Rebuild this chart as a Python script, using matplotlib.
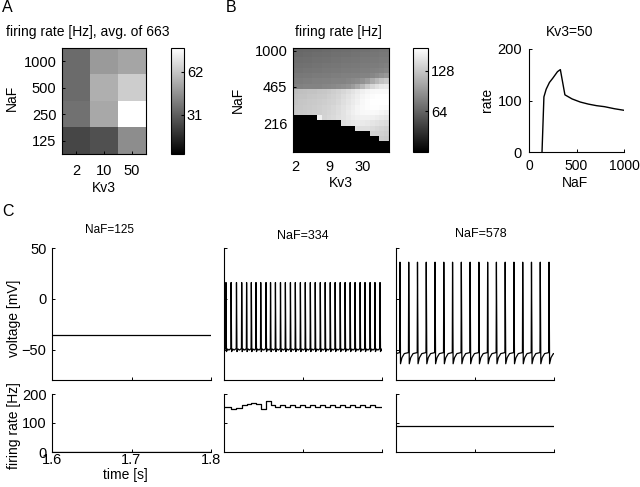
import numpy as np
import matplotlib
matplotlib.use('Agg')
import matplotlib.pyplot as plt

plt.rcParams['font.family'] = ['Liberation Sans', 'DejaVu Sans']
plt.rcParams['font.size'] = 10
plt.rcParams['axes.linewidth'] = 0.8

# ---------------- data ----------------
# Panel A
a_kv3_labels = ['2', '10', '50']
a_naf_labels = ['1000', '500', '250', '125']
a_rates = [[35, 49, 52],
           [35, 55, 64],
           [37, 53, 79],
           [24, 27, 45]]
a_clim = (3, 79)
a_cbar_ticks = [31, 62]

# Panel B heatmap (rows: NaF 1000 -> 125, cols: Kv3 2 -> 50)
b_rates = [
    [66, 66, 67, 67, 68, 68, 69, 69, 70, 70, 71, 71, 72, 72, 73, 73, 74, 74, 75, 75],
    [68, 68, 69, 69, 70, 70, 71, 71, 72, 72, 73, 73, 74, 74, 75, 75, 76, 76, 77, 77],
    [70, 70, 71, 71, 72, 72, 73, 73, 74, 74, 75, 75, 76, 76, 77, 77, 78, 78, 79, 79],
    [72, 72, 73, 73, 74, 74, 75, 75, 76, 76, 77, 77, 78, 78, 79, 79, 80, 80, 81, 82],
    [74, 74, 75, 75, 76, 76, 77, 77, 78, 78, 79, 79, 80, 80, 81, 81, 82, 83, 84, 86],
    [77, 77, 78, 78, 79, 79, 80, 80, 81, 81, 82, 82, 83, 83, 84, 85, 87, 90, 94, 98],
    [80, 80, 81, 81, 82, 82, 83, 83, 84, 84, 85, 86, 88, 90, 94, 100, 110, 118, 125, 130],
    [83, 83, 84, 84, 85, 85, 86, 87, 88, 90, 92, 95, 100, 108, 118, 130, 138, 144, 148, 150],
    [122, 123, 124, 125, 126, 127, 128, 130, 132, 135, 138, 142, 146, 150, 154, 157, 159, 160, 160, 160],
    [124, 125, 126, 127, 128, 129, 130, 132, 134, 137, 141, 145, 149, 153, 157, 160, 162, 163, 163, 163],
    [126, 127, 128, 129, 130, 131, 132, 134, 136, 139, 143, 147, 151, 155, 159, 162, 164, 164, 164, 164],
    [127, 128, 129, 130, 131, 132, 134, 136, 138, 141, 145, 149, 153, 157, 160, 162, 163, 163, 162, 161],
    [128, 129, 130, 131, 132, 133, 135, 137, 139, 142, 146, 150, 154, 157, 159, 160, 160, 159, 157, 155],
    [0, 0, 0, 0, 0, 155, 136, 138, 140, 143, 146, 149, 152, 154, 155, 155, 154, 152, 150, 148],
    [0, 0, 0, 0, 0, 0, 0, 0, 0, 0, 143, 146, 148, 150, 150, 149, 147, 145, 143, 141],
    [0, 0, 0, 0, 0, 0, 0, 0, 0, 0, 0, 0, 0, 142, 143, 143, 141, 139, 137, 135],
    [0, 0, 0, 0, 0, 0, 0, 0, 0, 0, 0, 0, 0, 0, 0, 0, 136, 135, 134, 132],
    [0, 0, 0, 0, 0, 0, 0, 0, 0, 0, 0, 0, 0, 0, 0, 0, 0, 0, 131, 130],
    [0] * 20,
    [0] * 20,
]
b_kv3_tick_idx = [0, 7, 14]
b_kv3_labels = ['2', '9', '30']
b_naf_tick_idx = [0, 7, 14]
b_naf_labels = ['1000', '465', '216']
b_clim = (0, 164)
b_cbar_ticks = [64, 128]

# Panel B right: rate vs NaF at Kv3=50
line_naf = [137, 157, 181, 215, 249, 300, 330, 378, 454, 540, 625, 710, 795, 900, 1000]
line_rate = [0, 107, 122, 135, 143, 156, 160, 111, 103, 97, 93, 90, 88, 84, 81]

# Panel C
c_titles = ['NaF=125', 'NaF=334', 'NaF=578']
v_rest_125 = -36
spikes_334_ms = [2.5, 9.0, 15.8, 22.4, 28.6, 34.6, 40.5, 46.5, 53.2, 58.9,
                 65.1, 71.5, 77.7, 84.1, 90.3, 96.7, 102.9, 109.3, 115.5, 121.9,
                 128.1, 134.5, 140.7, 147.1, 153.3, 159.7, 165.9, 172.3, 178.5, 184.9,
                 191.1, 197.5]
spikes_578_ms = [5.0, 16.1, 27.2, 38.3, 49.4, 60.5, 71.6, 82.7, 93.8, 104.9,
                 116.0, 127.1, 138.2, 149.3, 160.4, 171.5, 182.6, 193.7]
# spike waveform templates (ms offset from peak, mV)
tmpl_334_t = [-0.3, 0.0, 0.6, 2.0, 3.8]
tmpl_334_v = [-49, 16, -52, -49.5, -50.5]
tmpl_578_t = [-0.35, 0.0, 0.7, 2.5, 5.5]
tmpl_578_v = [-53, 36, -64, -58, -54]
rate_125 = 0
rate_578 = 90

# ---------------- figure ----------------
W, H = 640, 487
fig = plt.figure(figsize=(6.4, 4.87), dpi=100)


def ax_px(x0, y0, x1, y1):
    return fig.add_axes([x0 / W, 1 - y1 / H, (x1 - x0) / W, (y1 - y0) / H])


def ftext(x, y, s, **kw):
    kw.setdefault('ha', 'center')
    kw.setdefault('va', 'center')
    fig.text(x / W, 1 - y / H, s, **kw)


TL = 10.5
tick_kw = dict(direction='in', length=2.5, width=0.7)

# Panel A heatmap
axA = ax_px(62, 48, 146, 154)
imA = axA.imshow(a_rates, cmap='gray', vmin=a_clim[0], vmax=a_clim[1],
                 aspect='auto', interpolation='nearest')
axA.set_xticks(range(len(a_kv3_labels)), a_kv3_labels)
axA.set_yticks(range(len(a_naf_labels)), a_naf_labels)
axA.tick_params(axis='both', labelsize=TL, **tick_kw)
axA.tick_params(axis='x', pad=7)
axA.tick_params(axis='y', pad=4)
caxA = ax_px(171, 48, 184, 154)
cbA = fig.colorbar(imA, cax=caxA, ticks=a_cbar_ticks)
cbA.ax.tick_params(labelsize=TL, direction='in', length=2, pad=2)
cbA.outline.set_linewidth(0.8)

# Panel B heatmap
axB = ax_px(293, 48, 389, 152)
imB = axB.imshow(b_rates, cmap='gray', vmin=b_clim[0], vmax=b_clim[1],
                 aspect='auto', interpolation='nearest')
axB.set_xticks(b_kv3_tick_idx, b_kv3_labels)
axB.set_yticks(b_naf_tick_idx, b_naf_labels)
axB.tick_params(axis='both', labelsize=TL, **tick_kw)
axB.tick_params(axis='x', pad=6)
axB.tick_params(axis='y', pad=4)
caxB = ax_px(413, 48, 428, 152)
cbB = fig.colorbar(imB, cax=caxB, ticks=b_cbar_ticks)
cbB.ax.tick_params(labelsize=TL, direction='in', length=2, pad=2)
cbB.outline.set_linewidth(0.8)

# Panel B right line
axL = ax_px(529, 49, 624, 152)
axL.plot(line_naf, line_rate, color='black', lw=1.0)
axL.set_xlim(0, 1000)
axL.set_ylim(0, 200)
axL.set_xticks([0, 500, 1000])
axL.set_yticks([0, 100, 200])
axL.spines['top'].set_visible(False)
axL.spines['right'].set_visible(False)
axL.tick_params(axis='both', labelsize=TL, **tick_kw)
axL.tick_params(axis='x', pad=5, labelsize=10)
axL.tick_params(axis='y', pad=5)

# Panel C
cols_x = [(52, 211), (224, 382), (396, 554)]
t0, t1 = 1.6, 1.8


def build_trace(spk_ms, tt, tv):
    ts, vs = [], []
    for s in spk_ms:
        for dt, v in zip(tt, tv):
            ts.append(t0 + (s + dt) / 1000.0)
            vs.append(v)
    ts = [t0] + ts + [t1]
    vs = [tv[-1]] + vs + [tv[-1]]
    return ts, vs


v_traces = [
    ([t0, t1], [v_rest_125, v_rest_125]),
    build_trace(spikes_334_ms, tmpl_334_t, tmpl_334_v),
    build_trace(spikes_578_ms, tmpl_578_t, tmpl_578_v),
]

s334 = np.array(spikes_334_ms)
r334 = 1000.0 / np.diff(s334)
rate_t_334 = [t0] + list(t0 + s334[1:-1] / 1000.0) + [t1]
rate_v_334 = [r334[0]] + list(r334[1:]) + [r334[-1]]
r_traces = [
    ([t0, t1], [rate_125, rate_125]),
    (rate_t_334, rate_v_334),
    ([t0, t1], [rate_578, rate_578]),
]

for k, (xa, xb) in enumerate(cols_x):
    axv = ax_px(xa, 248, xb, 380)
    tv_, vv_ = v_traces[k]
    axv.plot(tv_, vv_, color='black', lw=0.9)
    axv.set_xlim(t0, t1)
    axv.set_ylim(-80, 50)
    axv.set_xticks([1.6, 1.7, 1.8])
    axv.set_yticks([-50, 0, 50])
    axv.tick_params(axis='both', labelsize=TL, **tick_kw)
    axv.tick_params(axis='y', pad=4)
    axv.set_xticklabels([])
    if k > 0:
        axv.set_yticklabels([])
    else:
        axv.set_yticklabels(['\u221250', '0', '50'])
    for sp in ('top', 'right'):
        axv.spines[sp].set_visible(False)

    axr = ax_px(xa, 394, xb, 452)
    tr_, rr_ = r_traces[k]
    axr.step(tr_, rr_, where='post', color='black', lw=0.9)
    axr.set_xlim(t0, t1)
    axr.set_ylim(0, 200)
    axr.set_xticks([1.6, 1.7, 1.8])
    axr.set_yticks([0, 100, 200])
    axr.tick_params(axis='both', labelsize=TL, **tick_kw)
    axr.tick_params(axis='x', pad=0.5)
    axr.tick_params(axis='y', pad=4)
    if k > 0:
        axr.set_xticklabels([])
        axr.set_yticklabels([])
    else:
        axr.set_xticklabels(['1.6', '1.7', '1.8'])
    for sp in ('top', 'right'):
        axr.spines[sp].set_visible(False)

# ---------------- text ----------------
ftext(2, 8, 'A', ha='left', fontsize=11.5)
ftext(226, 7, 'B', ha='left', fontsize=11.5)
ftext(2, 212, 'C', ha='left', fontsize=11.5)

ftext(88, 32, 'firing rate [Hz], avg. of 663')
ftext(12, 98, 'NaF', rotation=90)
ftext(104, 188, 'Kv3')

ftext(338, 32, 'firing rate [Hz]')
ftext(238, 100, 'NaF', rotation=90)
ftext(341, 183, 'Kv3')

ftext(570, 32, 'Kv3=50')
ftext(487, 100, 'rate', rotation=90)
ftext(575, 183, 'NaF')

ftext(110, 230, c_titles[0], fontsize=8.5)
ftext(303, 236, c_titles[1], fontsize=9)
ftext(481, 234, c_titles[2], fontsize=9)
ftext(14, 318, 'voltage [mV]', rotation=90)
ftext(14, 426, 'firing rate [Hz]', rotation=90)
ftext(125, 475, 'time [s]')

fig.savefig('out.png', dpi=100)
